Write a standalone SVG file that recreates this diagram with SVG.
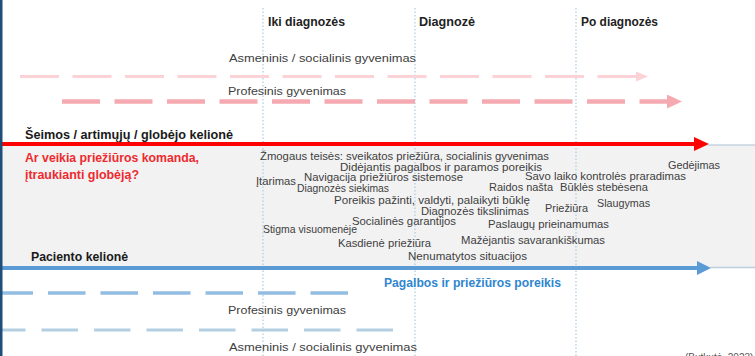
<svg xmlns="http://www.w3.org/2000/svg" width="755" height="356" viewBox="0 0 755 356">
<style>
  text { font-family: "Liberation Sans", Arial, sans-serif; fill: #404040; }
  .hdr { font-size: 12px; font-weight: bold; fill: #222; }
  .life { font-size: 11.5px; }
  .lab { font-size: 10.5px; }
  .journey { font-size: 12.5px; font-weight: bold; fill: #1a1a1a; }
  .red { font-size: 12.5px; font-weight: bold; fill: #ee2a2f; }
  .blue { font-size: 12.5px; font-weight: bold; fill: #2f86cf; }
  .vline { stroke: #a9cbe3; stroke-width: 1.2; stroke-dasharray: 1.5 2; fill: none; }
  .pinkL { stroke: #fbd3d7; stroke-width: 3; stroke-dasharray: 39 13.5; fill: none; }
  .pinkD { stroke: #f5a9b0; stroke-width: 4.5; stroke-dasharray: 38 14.5; fill: none; }
  .blueD { stroke: #92bde2; stroke-width: 3.5; stroke-dasharray: 37.5 15; fill: none; }
  .blueL { stroke: #b3cfe2; stroke-width: 3; stroke-dasharray: 36.5 16; fill: none; }
</style>
<defs>
  <marker id="mPinkL" markerUnits="userSpaceOnUse" markerWidth="13" markerHeight="10" refX="0" refY="5" orient="auto">
    <path d="M0,0 L12,5 L0,10 z" fill="#fbd3d7"/>
  </marker>
  <marker id="mPinkD" markerUnits="userSpaceOnUse" markerWidth="16" markerHeight="14" refX="0" refY="7" orient="auto">
    <path d="M0,0 L15,7 L0,14 z" fill="#f5a9b0"/>
  </marker>
  <marker id="mRed" markerUnits="userSpaceOnUse" markerWidth="16" markerHeight="14" refX="0" refY="7" orient="auto">
    <path d="M0,0 L15,7 L0,14 z" fill="#ff0000"/>
  </marker>
  <marker id="mBlue" markerUnits="userSpaceOnUse" markerWidth="16" markerHeight="14" refX="0" refY="7" orient="auto">
    <path d="M0,0 L14,7 L0,14 z" fill="#5b9bd5"/>
  </marker>
</defs>

<rect x="0" y="0" width="755" height="356" fill="#ffffff"/>
<rect id="band" x="0" y="145" width="755" height="122" fill="#f2f2f2"/>

<g id="phases">
  <line class="vline" x1="263" y1="8" x2="263" y2="356"/>
  <line class="vline" x1="415" y1="8" x2="415" y2="356"/>
  <line class="vline" x1="576" y1="8" x2="576" y2="356"/>
  <text class="hdr" x="268" y="26" textLength="77" lengthAdjust="spacingAndGlyphs">Iki diagnozės</text>
  <text class="hdr" x="419" y="26" textLength="56" lengthAdjust="spacingAndGlyphs">Diagnozė</text>
  <text class="hdr" x="581" y="26" textLength="77" lengthAdjust="spacingAndGlyphs">Po diagnozės</text>
</g>

<g id="connectors">
  <line class="pinkL" x1="20" y1="76.5" x2="636" y2="76.5" marker-end="url(#mPinkL)"/>
  <line class="pinkD" x1="62" y1="101.5" x2="667" y2="101.5" marker-end="url(#mPinkD)"/>
  <line x1="2" y1="144" x2="694" y2="144" stroke="#ff0000" stroke-width="4" marker-end="url(#mRed)"/>
  <line x1="708" y1="145" x2="755" y2="145" stroke="#c5d3de" stroke-width="1.5"/>
  <line x1="2" y1="268" x2="697" y2="268" stroke="#5b9bd5" stroke-width="4" marker-end="url(#mBlue)"/>
  <line x1="710" y1="267.5" x2="755" y2="267.5" stroke="#b9cfe0" stroke-width="1.5"/>
  <line class="blueD" x1="-4.5" y1="293" x2="348" y2="293"/>
  <line class="blueL" x1="-11" y1="330" x2="395" y2="330"/>
</g>

<g id="family-life">
  <text class="life" x="229" y="62" textLength="187" lengthAdjust="spacingAndGlyphs">Asmeninis / socialinis gyvenimas</text>
  <text class="life" x="228" y="95" textLength="118" lengthAdjust="spacingAndGlyphs">Profesinis gyvenimas</text>
</g>

<g id="family-journey">
  <text class="journey" x="25" y="139" textLength="208" lengthAdjust="spacingAndGlyphs">Šeimos / artimųjų / globėjo kelionė</text>
  <text class="red" x="25" y="162" textLength="174" lengthAdjust="spacingAndGlyphs">Ar veikia priežiūros komanda,</text>
  <text class="red" x="25" y="179" textLength="114" lengthAdjust="spacingAndGlyphs">įtraukianti globėją?</text>
</g>

<g id="needs">
  <text class="lab" x="260" y="160" textLength="289" lengthAdjust="spacingAndGlyphs">Žmogaus teisės: sveikatos priežiūra, socialinis gyvenimas</text>
  <text class="lab" x="340" y="170.5" textLength="202" lengthAdjust="spacingAndGlyphs">Didėjantis pagalbos ir paramos poreikis</text>
  <text class="lab" x="256" y="184.5" textLength="40" lengthAdjust="spacingAndGlyphs">Įtarimas</text>
  <text class="lab" x="304" y="181" textLength="159" lengthAdjust="spacingAndGlyphs">Navigacija priežiūros sistemose</text>
  <text class="lab" x="297" y="192" textLength="92" lengthAdjust="spacingAndGlyphs">Diagnozės siekimas</text>
  <text class="lab" x="334" y="203.5" textLength="196" lengthAdjust="spacingAndGlyphs">Poreikis pažinti, valdyti, palaikyti būklę</text>
  <text class="lab" x="421" y="215" textLength="108" lengthAdjust="spacingAndGlyphs">Diagnozės tikslinimas</text>
  <text class="lab" x="352" y="224.5" textLength="104" lengthAdjust="spacingAndGlyphs">Socialinės garantijos</text>
  <text class="lab" x="263" y="232.5" textLength="94" lengthAdjust="spacingAndGlyphs">Stigma visuomenėje</text>
  <text class="lab" x="338" y="246.5" textLength="93" lengthAdjust="spacingAndGlyphs">Kasdienė priežiūra</text>
  <text class="lab" x="408" y="259.5" textLength="119" lengthAdjust="spacingAndGlyphs">Nenumatytos situacijos</text>
  <text class="lab" x="668" y="168.5" textLength="52" lengthAdjust="spacingAndGlyphs">Gedėjimas</text>
  <text class="lab" x="525" y="179.5" textLength="161" lengthAdjust="spacingAndGlyphs">Savo laiko kontrolės praradimas</text>
  <text class="lab" x="489" y="190.5" textLength="64" lengthAdjust="spacingAndGlyphs">Raidos našta</text>
  <text class="lab" x="560" y="190.5" textLength="88" lengthAdjust="spacingAndGlyphs">Būklės stebėsena</text>
  <text class="lab" x="597" y="206.5" textLength="53" lengthAdjust="spacingAndGlyphs">Slaugymas</text>
  <text class="lab" x="545" y="211.5" textLength="43" lengthAdjust="spacingAndGlyphs">Priežiūra</text>
  <text class="lab" x="488" y="227.5" textLength="121" lengthAdjust="spacingAndGlyphs">Paslaugų prieinamumas</text>
  <text class="lab" x="461" y="243.5" textLength="144" lengthAdjust="spacingAndGlyphs">Mažėjantis savarankiškumas</text>
</g>

<g id="patient-journey">
  <text class="journey" x="31" y="261" textLength="97" lengthAdjust="spacingAndGlyphs">Paciento kelionė</text>
  <text class="blue" x="384" y="287" textLength="177" lengthAdjust="spacingAndGlyphs">Pagalbos ir priežiūros poreikis</text>
</g>

<g id="patient-life">
  <text class="life" x="228" y="314" textLength="118" lengthAdjust="spacingAndGlyphs">Profesinis gyvenimas</text>
  <text class="life" x="229" y="351" textLength="188" lengthAdjust="spacingAndGlyphs">Asmeninis / socialinis gyvenimas</text>
</g>

<g id="source">
  <text x="685" y="361" style="font-size:10px; fill:#555">(Butkutė, 2023)</text>
</g>

<rect id="edge" x="0" y="0" width="2.5" height="356" fill="#1f4e79"/>
</svg>
